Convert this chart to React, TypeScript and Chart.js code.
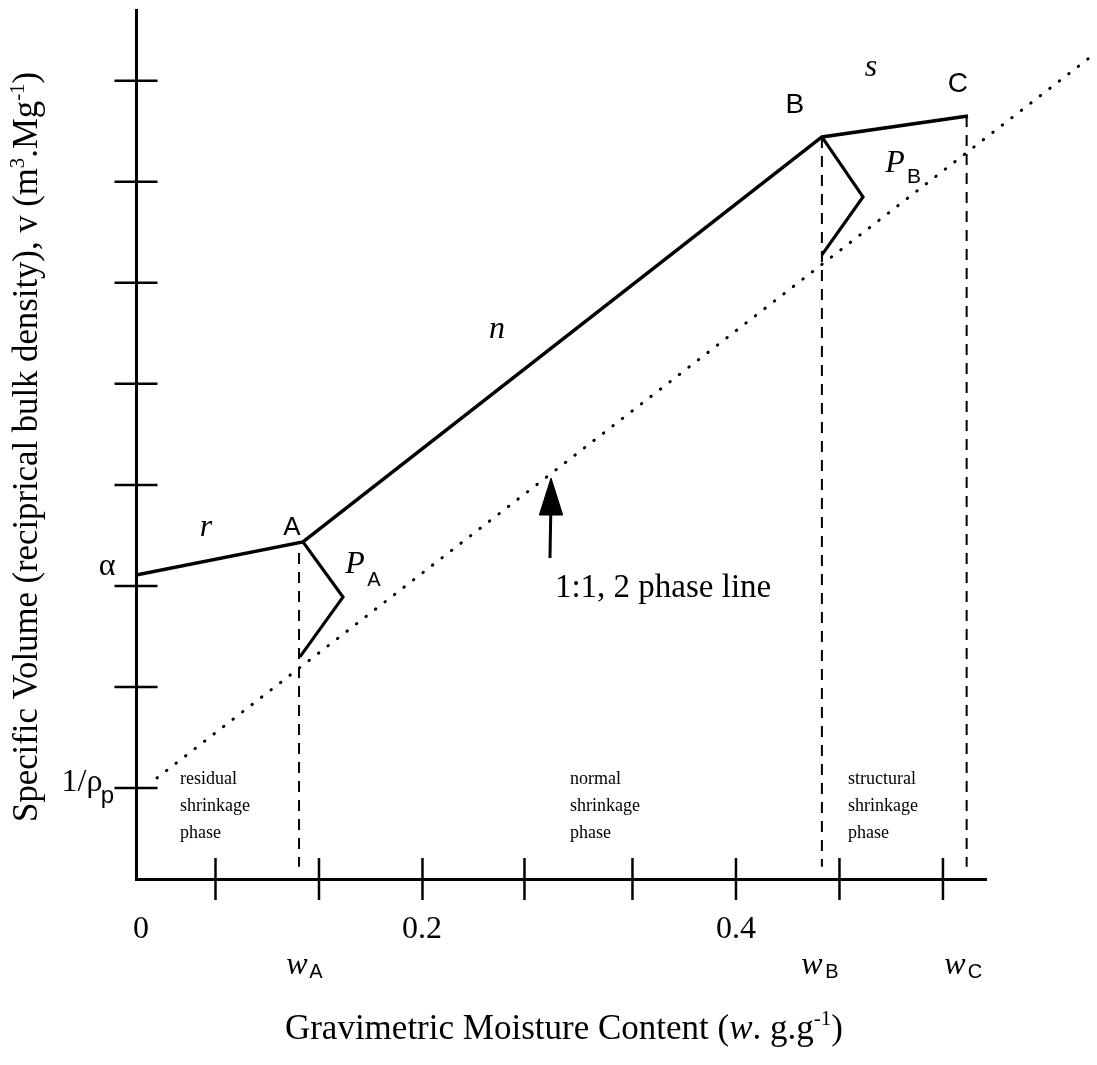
import React, { useEffect, useRef } from 'react';
import { Chart, registerables } from 'chart.js';

Chart.register(...registerables);

// ---------- data (w in g/g, v in m3/Mg) ----------
// shrinkage curve: alpha, A, B, C
const curveW = [0, 0.1113, 0.4573, 0.5547];
const curveV = [0.4554, 0.4718, 0.6722, 0.6826];
// P_A bracket
const pAW = [0.1113, 0.138, 0.1093];
const pAV = [0.4718, 0.4445, 0.4149];
// P_B bracket
const pBW = [0.4573, 0.4847, 0.4573];
const pBV = [0.6722, 0.6425, 0.6138];
// 1:1, 2 phase line
const phaseLineW = [0.014, 0.638];
const phaseLineV = [0.355, 0.7127];
// dashed drop lines at wA, wB, wC
const dropW = [0.1087, 0.4573, 0.5538];
const dropTopV = [0.4663, 0.6722, 0.6826];
const dropBottomV = 0.311;
// arrow pointing to the phase line
const arrowShaftW = [0.276, 0.2765];
const arrowShaftV = [0.4638, 0.4851];
const arrowHeadW = [0.2689, 0.2767, 0.2845, 0.2689];
const arrowHeadV = [0.4851, 0.5034, 0.4851, 0.4851];
// axis ticks
const xTickValues = [0.053, 0.122, 0.191, 0.259, 0.331, 0.4, 0.469, 0.538];
const yTickValues = [0.35, 0.4, 0.45, 0.5, 0.55, 0.6, 0.65, 0.7];
const xTickLabelValues = [0.0033, 0.1907, 0.4];
const xTickLabelTexts = ['0', '0.2', '0.4'];
const X_MIN = 0;
const X_MAX = 0.5667;
const Y_MIN = 0.305;
const Y_MAX = 0.735;

const SERIF = '"Liberation Serif", "Times New Roman", serif';
const SANS = '"Liberation Sans", Arial, sans-serif';

type Part = { t: string; font: string; dy?: number };

function drawParts(ctx: CanvasRenderingContext2D, parts: Part[], x: number, y: number, targetW?: number) {
  let total = 0;
  for (const p of parts) {
    ctx.font = p.font;
    total += ctx.measureText(p.t).width;
  }
  ctx.save();
  ctx.translate(x, y);
  const s = targetW ? targetW / total : 1;
  ctx.scale(s, 1);
  let cx = -total / 2;
  ctx.textAlign = 'left';
  ctx.textBaseline = 'middle';
  for (const p of parts) {
    ctx.font = p.font;
    ctx.fillText(p.t, cx, p.dy || 0);
    cx += ctx.measureText(p.t).width;
  }
  ctx.restore();
}

const textPlugin = {
  id: 'diagramText',
  afterDraw(chart: any) {
    const ctx: CanvasRenderingContext2D = chart.ctx;
    const xs = chart.scales.x;
    const ys = chart.scales.y;
    const px = (v: number) => xs.getPixelForValue(v);
    const py = (v: number) => ys.getPixelForValue(v);
    ctx.save();
    ctx.fillStyle = '#000';

    const center = (t: string, font: string, x: number, y: number) => {
      ctx.font = font;
      ctx.textAlign = 'center';
      ctx.textBaseline = 'middle';
      ctx.fillText(t, px(x), py(y));
    };
    const left = (t: string, font: string, x: number, y: number) => {
      ctx.font = font;
      ctx.textAlign = 'left';
      ctx.textBaseline = 'alphabetic';
      ctx.fillText(t, px(x), py(y));
    };

    // point / segment labels
    center('α', `32px ${SERIF}`, -0.0193, 0.4594);
    center('r', `italic 32px ${SERIF}`, 0.0467, 0.4787);
    center('A', `26px ${SANS}`, 0.104, 0.4787);
    center('P', `italic 32px ${SERIF}`, 0.146, 0.4604);
    center('A', `20px ${SANS}`, 0.1587, 0.4525);
    center('n', `italic 32px ${SERIF}`, 0.2407, 0.5767);
    left('1:1, 2 phase line', `33px ${SERIF}`, 0.2793, 0.4445);
    center('B', `28px ${SANS}`, 0.4393, 0.688);
    center('s', `italic 32px ${SERIF}`, 0.49, 0.7063);
    center('C', `28px ${SANS}`, 0.548, 0.6984);
    center('P', `italic 32px ${SERIF}`, 0.506, 0.6588);
    center('B', `21px ${SANS}`, 0.5187, 0.6524);
    center('1/ρ', `32px ${SERIF}`, -0.036, 0.3525);
    center('p', `24px ${SANS}`, -0.019, 0.3461);

    // phase labels
    const phaseFont = `18px ${SERIF}`;
    const phaseBase = [0.352, 0.3386, 0.3253];
    const phases: [number, string[]][] = [
      [0.0293, ['residual', 'shrinkage', 'phase']],
      [0.2893, ['normal', 'shrinkage', 'phase']],
      [0.4747, ['structural', 'shrinkage', 'phase']],
    ];
    for (const [x, lines] of phases) {
      lines.forEach((l, i) => left(l, phaseFont, x, phaseBase[i]));
    }

    // x tick labels
    xTickLabelValues.forEach((v, i) => center(xTickLabelTexts[i], `32px ${SERIF}`, v, 0.2798));
    // w labels
    const wLab: [number, number, string][] = [
      [0.1073, 0.12, 'A'],
      [0.4507, 0.464, 'B'],
      [0.546, 0.5593, 'C'],
    ];
    for (const [wx, sx, sub] of wLab) {
      center('w', `italic 32px ${SERIF}`, wx, 0.262);
      center(sub, `20px ${SANS}`, sx, 0.2585);
    }

    // x axis title
    const tf = `35px ${SERIF}`;
    const tfs = `21px ${SERIF}`;
    drawParts(
      ctx,
      [
        { t: 'Gravimetric Moisture Content (', font: tf },
        { t: 'w', font: `italic 35px ${SERIF}` },
        { t: '. g.g', font: tf },
        { t: '-1', font: tfs, dy: -10 },
        { t: ')', font: tf },
      ],
      px(0.2853),
      py(0.2303),
      558
    );

    // y axis title (rotated)
    ctx.save();
    ctx.translate(px(-0.072), py(0.5188));
    ctx.rotate(-Math.PI / 2);
    drawParts(
      ctx,
      [
        { t: 'Specific Volume (reciprical bulk density), v (m', font: tf },
        { t: '3', font: tfs, dy: -10 },
        { t: '.Mg', font: tf },
        { t: '-1', font: tfs, dy: -10 },
        { t: ')', font: tf },
      ],
      0,
      0,
      750
    );
    ctx.restore();

    ctx.restore();
  },
};

const pts = (xs: number[], ys: number[]) => xs.map((x, i) => ({ x, y: ys[i] }));

export default function App() {
  const ref = useRef<HTMLCanvasElement>(null);
  useEffect(() => {
    if (!ref.current) return;
    const solid = { borderColor: '#000', pointRadius: 0, showLine: true, tension: 0, fill: false } as any;
    const datasets: any[] = [
      { ...solid, data: pts(curveW, curveV), borderWidth: 3.5, borderJoinStyle: 'miter' },
      { ...solid, data: pts(pAW, pAV), borderWidth: 3.2, borderJoinStyle: 'miter' },
      { ...solid, data: pts(pBW, pBV), borderWidth: 3.2, borderJoinStyle: 'miter' },
      {
        ...solid,
        data: pts(phaseLineW, phaseLineV),
        borderWidth: 3,
        borderDash: [0.5, 11.5],
        borderCapStyle: 'round',
        clip: false,
      },
      ...dropW.map((w, i) => ({
        ...solid,
        data: [
          { x: w, y: dropTopV[i] },
          { x: w, y: dropBottomV },
        ],
        borderWidth: 2,
        borderDash: [11, 8],
      })),
      { ...solid, data: pts(arrowShaftW, arrowShaftV), borderWidth: 3 },
      {
        ...solid,
        data: pts(arrowHeadW, arrowHeadV),
        borderWidth: 1,
        fill: 'shape',
        backgroundColor: '#000',
      },
      {
        data: xTickValues.map((x) => ({ x, y: Y_MIN })),
        showLine: false,
        pointStyle: 'line',
        rotation: 90,
        pointRadius: 21,
        pointBorderWidth: 2.5,
        pointBorderColor: '#000',
        clip: false,
      },
      {
        data: yTickValues.map((y) => ({ x: X_MIN, y })),
        showLine: false,
        pointStyle: 'line',
        rotation: 0,
        pointRadius: 21.5,
        pointBorderWidth: 2.5,
        pointBorderColor: '#000',
        clip: false,
      },
    ];
    const chart = new Chart(ref.current, {
      type: 'scatter',
      data: { datasets },
      options: {
        animation: false,
        responsive: false,
        events: [],
        layout: { autoPadding: false, padding: { left: 136, right: 111, top: 10, bottom: 186 } },
        plugins: { legend: { display: false }, tooltip: { enabled: false }, title: { display: false } },
        scales: {
          x: {
            type: 'linear',
            min: X_MIN,
            max: X_MAX,
            grid: { display: false, drawTicks: false },
            ticks: { display: false },
            border: { display: true, color: '#000', width: 3 },
          },
          y: {
            type: 'linear',
            min: Y_MIN,
            max: Y_MAX,
            grid: { display: false, drawTicks: false },
            ticks: { display: false },
            border: { display: true, color: '#000', width: 3 },
          },
        },
      },
      plugins: [textPlugin],
    });
    return () => chart.destroy();
  }, []);
  return (
    <div style={{ position: 'absolute', left: 0, top: 0, width: 1097, height: 1065, background: '#fff' }}>
      <canvas ref={ref} width={1097} height={1065} style={{ display: 'block' }} />
    </div>
  );
}
